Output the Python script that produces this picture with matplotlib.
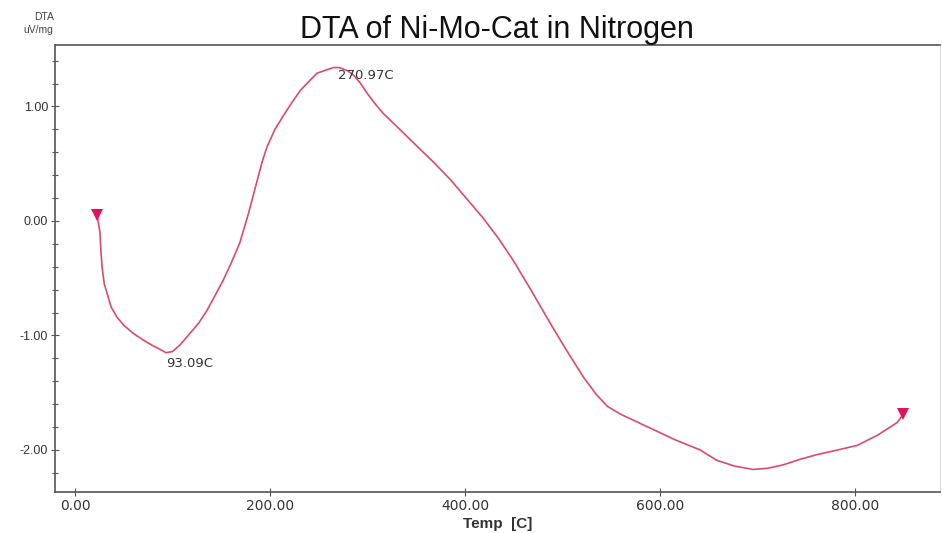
import matplotlib.pyplot as plt
from matplotlib.ticker import MultipleLocator, FixedLocator

plt.rcParams['font.family'] = ['Liberation Sans', 'DejaVu Sans']

# DTA trace (temperature in C, signal in uV/mg)
temp = [22.6, 24, 25.6, 26.5, 27.7, 30, 32.8, 37, 43, 50, 59.5, 70, 80, 87,
        93.1, 100, 108, 118, 127, 135.4, 143, 151.8, 160, 169, 178, 187, 192,
        197, 205, 213, 222, 231, 240, 248, 258, 265, 271, 280, 286, 292, 300,
        308, 316, 333, 351, 368, 385, 401, 418, 434, 449, 468, 487, 504, 521,
        534, 546, 560, 575, 590, 615, 641, 658, 676, 695, 710, 726, 744, 761,
        782, 802, 823, 843, 849]
dta = [0.05, -0.02, -0.10, -0.25, -0.40, -0.55, -0.63, -0.75, -0.84, -0.91,
       -0.98, -1.04, -1.09, -1.12, -1.15, -1.14, -1.08, -0.98, -0.89, -0.78,
       -0.66, -0.52, -0.37, -0.19, 0.07, 0.36, 0.52, 0.65, 0.80, 0.91, 1.03,
       1.14, 1.22, 1.29, 1.32, 1.34, 1.34, 1.31, 1.27, 1.21, 1.11, 1.02, 0.94,
       0.80, 0.65, 0.51, 0.36, 0.20, 0.03, -0.15, -0.34, -0.61, -0.89, -1.13,
       -1.36, -1.51, -1.62, -1.69, -1.75, -1.81, -1.91, -2.00, -2.09, -2.14,
       -2.17, -2.16, -2.13, -2.08, -2.04, -2.00, -1.96, -1.87, -1.76, -1.69]

peak_labels = ["93.09C", "270.97C"]
peak_temp = [93.1, 271]
peak_dta = [-1.15, 1.34]

xticks = [0, 200, 400, 600, 800]
yticks = [-2, -1, 0, 1]

fig = plt.figure(figsize=(9.42, 5.33), dpi=100)
ax = fig.add_axes([0.0584, 0.0769, 0.9396, 0.8387])

ax.plot(temp, dta, color='#dc4a6e', lw=1.2)
# start / end markers
ax.plot([temp[0], temp[-1]], [dta[0], dta[-1]], 'v', color='#e0115f',
        markersize=8, markeredgewidth=0)

ax.text(peak_temp[0], peak_dta[0] - 0.04, peak_labels[0], fontsize=9.5,
        family='DejaVu Sans', color='#333333', ha='left', va='top')
ax.text(peak_temp[1] - 1, peak_dta[1] - 0.01, peak_labels[1], fontsize=9.5,
        family='DejaVu Sans', color='#333333', ha='left', va='top')

ax.set_xlim(-20.5, 887)
ax.set_ylim(-2.367, 1.537)

ax.xaxis.set_major_locator(FixedLocator(xticks))
ax.yaxis.set_major_locator(FixedLocator(yticks))
ax.yaxis.set_minor_locator(MultipleLocator(0.2))
ax.set_xticklabels([f"{t:.2f}" for t in xticks], family='DejaVu Sans',
                   fontsize=10)
ax.set_yticklabels([f"{t:.2f}" for t in yticks], fontsize=9)
ax.tick_params(axis='both', which='major', direction='inout', length=6,
               width=0.8, color='#555555', labelcolor='#333333', pad=2)
ax.tick_params(axis='y', which='minor', direction='inout', length=4,
               width=0.8, color='#555555')

for s in ['left', 'top', 'bottom']:
    ax.spines[s].set_color('#555555')
    ax.spines[s].set_linewidth(1.2)
ax.spines['right'].set_color('#dddddd')
ax.spines['right'].set_linewidth(0.8)

ax.set_xlabel('Temp  [C]', fontsize=11, fontweight='bold', color='#333333',
              labelpad=3)

fig.text(0.528, 0.944, 'DTA of Ni-Mo-Cat in Nitrogen', fontsize=22,
         ha='center', va='center', color='#111111')
fig.text(0.047, 0.968, 'DTA', fontsize=7.5, ha='center', va='center',
         color='#444444')
fig.text(0.056, 0.943, 'uV/mg', fontsize=7.5, ha='right', va='center',
         color='#444444')

fig.savefig('out.png', dpi=100)
